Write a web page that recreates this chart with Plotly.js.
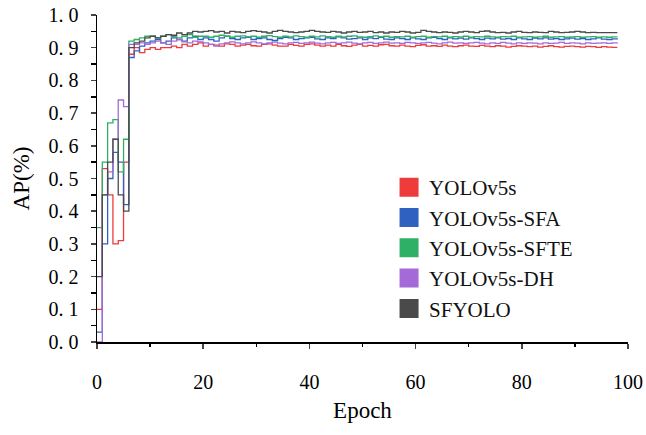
<!DOCTYPE html>
<html><head><meta charset="utf-8">
<script src="https://cdn.plot.ly/plotly-3.0.1.min.js"></script>
<style>html,body{margin:0;padding:0;background:#fff}#chart{width:646px;height:435px}</style>
</head><body><div id="chart"></div>
<script>
const seriesNames = ["YOLOv5s","YOLOv5s-SFA","YOLOv5s-SFTE","YOLOv5s-DH","SFYOLO"];
const seriesColors = ["#ee3b3b","#2f62c0","#2fb067","#a46ad8","#4a4a4a"];
const yTickVals = [0,0.1,0.2,0.3,0.4,0.5,0.6,0.7,0.8,0.9,1.0];
const yTickText = ["0. 0","0. 1","0. 2","0. 3","0. 4","0. 5","0. 6","0. 7","0. 8","0. 9","1. 0"];
const xTickVals = [0,20,40,60,80,100];

const apYOLOv5s = [
0.10,0.53,0.45,0.30,0.31,0.55,0.88,0.90,0.885,0.895,
0.90,0.895,0.90,0.90,0.905,0.90,0.91,0.905,0.91,0.915,
0.905,0.91,0.908,0.905,0.912,0.91,0.905,0.908,0.91,0.906,
0.905,0.91,0.912,0.908,0.905,0.905,0.91,0.907,0.905,0.91,
0.912,0.908,0.905,0.908,0.905,0.91,0.906,0.904,0.908,0.91,
0.905,0.907,0.905,0.909,0.91,0.906,0.905,0.908,0.905,0.903,
0.907,0.909,0.905,0.906,0.904,0.908,0.905,0.903,0.906,0.908,
0.905,0.904,0.907,0.905,0.903,0.906,0.905,0.902,0.904,0.906,
0.905,0.903,0.905,0.902,0.904,0.906,0.903,0.902,0.904,0.905,
0.903,0.902,0.904,0.903,0.901,0.903,0.902,0.901,0.901];
const apSFA = [
0.03,0.30,0.50,0.58,0.55,0.42,0.87,0.89,0.905,0.915,
0.92,0.925,0.915,0.92,0.93,0.925,0.92,0.93,0.935,0.925,
0.93,0.925,0.92,0.93,0.935,0.928,0.925,0.93,0.932,0.925,
0.928,0.93,0.925,0.922,0.928,0.932,0.93,0.925,0.928,0.93,
0.932,0.927,0.925,0.93,0.928,0.933,0.93,0.926,0.928,0.93,
0.925,0.93,0.928,0.932,0.926,0.925,0.93,0.928,0.925,0.93,
0.927,0.925,0.93,0.932,0.928,0.925,0.93,0.927,0.929,0.926,
0.93,0.928,0.925,0.929,0.927,0.93,0.926,0.928,0.925,0.93,
0.927,0.925,0.929,0.927,0.93,0.926,0.928,0.925,0.927,0.929,
0.926,0.928,0.925,0.927,0.93,0.926,0.925,0.927,0.928];
const apSFTE = [
0.35,0.55,0.67,0.68,0.52,0.62,0.92,0.925,0.93,0.935,
0.935,0.93,0.935,0.94,0.935,0.93,0.935,0.94,0.932,0.935,
0.935,0.932,0.935,0.938,0.935,0.932,0.935,0.936,0.933,0.935,
0.932,0.935,0.937,0.934,0.932,0.935,0.933,0.936,0.934,0.932,
0.935,0.933,0.936,0.934,0.932,0.935,0.933,0.935,0.936,0.933,
0.932,0.934,0.936,0.933,0.935,0.932,0.934,0.933,0.935,0.932,
0.934,0.935,0.932,0.934,0.933,0.935,0.932,0.934,0.933,0.935,
0.932,0.934,0.933,0.935,0.933,0.932,0.934,0.933,0.935,0.932,
0.933,0.934,0.932,0.933,0.935,0.932,0.933,0.934,0.932,0.933,
0.934,0.932,0.933,0.934,0.932,0.933,0.932,0.933,0.933];
const apDH = [
0.0,0.45,0.52,0.62,0.74,0.72,0.91,0.91,0.915,0.91,
0.915,0.92,0.915,0.91,0.92,0.925,0.918,0.915,0.92,0.918,
0.915,0.91,0.905,0.912,0.915,0.918,0.915,0.912,0.915,0.918,
0.915,0.912,0.915,0.917,0.914,0.912,0.915,0.916,0.913,0.915,
0.917,0.914,0.912,0.915,0.916,0.913,0.915,0.917,0.914,0.912,
0.915,0.916,0.913,0.915,0.917,0.914,0.915,0.913,0.916,0.915,
0.913,0.915,0.916,0.914,0.912,0.915,0.917,0.914,0.915,0.913,
0.915,0.916,0.914,0.912,0.915,0.913,0.916,0.914,0.912,0.915,
0.913,0.915,0.914,0.912,0.915,0.913,0.914,0.916,0.913,0.915,
0.914,0.912,0.915,0.913,0.914,0.915,0.913,0.915,0.916];
const apSFYOLO = [
0.20,0.45,0.55,0.62,0.45,0.40,0.90,0.915,0.92,0.93,
0.935,0.93,0.935,0.94,0.938,0.945,0.94,0.945,0.95,0.948,
0.95,0.952,0.948,0.95,0.945,0.95,0.948,0.946,0.95,0.952,
0.95,0.948,0.945,0.95,0.953,0.95,0.948,0.946,0.948,0.95,
0.953,0.95,0.948,0.947,0.95,0.948,0.945,0.948,0.95,0.947,
0.948,0.95,0.946,0.948,0.945,0.948,0.947,0.95,0.948,0.945,
0.947,0.953,0.95,0.948,0.946,0.948,0.947,0.945,0.948,0.95,
0.948,0.946,0.95,0.951,0.948,0.946,0.947,0.945,0.948,0.95,
0.947,0.946,0.948,0.947,0.946,0.95,0.948,0.946,0.947,0.948,
0.95,0.948,0.946,0.947,0.946,0.946,0.946,0.946,0.946];

const allSeries = [apYOLOv5s, apSFA, apSFTE, apDH, apSFYOLO];
const FONT = "Liberation Serif, Times New Roman, serif";

const traces = [];
allSeries.forEach((ys, i) => {
  const epochs = ys.map((_, k) => k);
  traces.push({x: epochs, y: ys, type: "scatter", mode: "lines", name: seriesNames[i],
    line: {color: seriesColors[i], width: 1.3, shape: "hv"}, showlegend: false, hoverinfo: "skip"});
});
seriesNames.forEach((n, i) => {
  traces.push({x: [null], y: [null], type: "scatter", mode: "markers", name: n,
    marker: {symbol: "square", size: 16, color: seriesColors[i], line: {color: seriesColors[i], width: 3}}});
});

const layout = {
  width: 646, height: 435,
  margin: {l: 97, r: 18, t: 15, b: 93},
  paper_bgcolor: "#fff", plot_bgcolor: "#fff",
  font: {family: FONT, color: "#000", size: 20},
  showlegend: true,
  legend: {x: 0.55, y: 0.535, xanchor: "left", yanchor: "top", bgcolor: "rgba(0,0,0,0)",
    font: {family: FONT, size: 21, color: "#111"}, tracegroupgap: 0, itemwidth: 30},
  xaxis: {range: [0, 100], tickvals: xTickVals, ticks: "outside", ticklen: 5, tickwidth: 1.5,
    showline: true, linecolor: "#000", linewidth: 1.5, showgrid: false, zeroline: false,
    ticklabelstandoff: 16,
    minor: {dtick: 10, ticks: "outside", ticklen: 3, tickcolor: "#000"},
    tickfont: {family: FONT, size: 20, color: "#000"},
    title: {text: "Epoch", font: {family: FONT, size: 23, color: "#000"}, standoff: 10}},
  yaxis: {range: [0, 1.0], tickvals: yTickVals, ticktext: yTickText, ticks: "outside", ticklen: 5, tickwidth: 1.5,
    showline: true, linecolor: "#000", linewidth: 1.5, showgrid: false, zeroline: false,
    ticklabelstandoff: 8,
    minor: {dtick: 0.05, ticks: "outside", ticklen: 5, tickcolor: "#000"},
    tickfont: {family: FONT, size: 20, color: "#000"},
    title: {text: "AP(%)", font: {family: FONT, size: 23, color: "#000"}, standoff: 12}}
};
Plotly.newPlot("chart", traces, layout, {displayModeBar: false, staticPlot: true});
</script></body></html>
